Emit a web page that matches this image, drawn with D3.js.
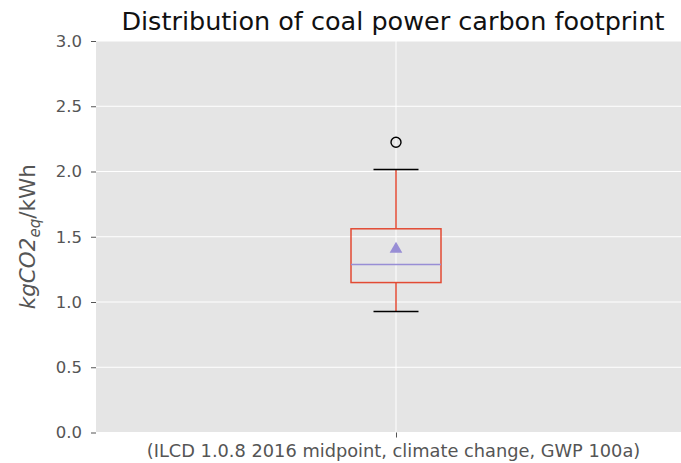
<!DOCTYPE html>
<html>
<head>
<meta charset="utf-8">
<script src="https://cdn.jsdelivr.net/npm/d3@7"></script>
<style>
  body { margin: 0; background: #fff; }
  text { font-family: "DejaVu Sans", sans-serif; }
</style>
</head>
<body>
<svg id="chart" width="681" height="463"></svg>
<script>
// box stats (kg CO2-eq / kWh)
const categories = ["(ILCD 1.0.8 2016 midpoint, climate change, GWP 100a)"];
const whiskerLow = [0.927];
const q1 = [1.149];
const median = [1.287];
const mean = [1.406];
const q3 = [1.561];
const whiskerHigh = [2.016];
const fliers = [[2.224]];
const yTicks = [0.0, 0.5, 1.0, 1.5, 2.0, 2.5, 3.0];

const svg = d3.select("#chart");
const margin = { top: 41, left: 96 };
const innerWidth = 600;
const innerHeight = 391.5;

const g = svg.append("g")
  .attr("transform", `translate(${margin.left}, ${margin.top})`);

// x domain like matplotlib: positions 1..n, limits +/- 0.5
const xScale = d3.scaleLinear()
  .domain([0.5, categories.length + 0.5])
  .range([0, innerWidth]);

const yScale = d3.scaleLinear()
  .domain([0, 3])
  .range([innerHeight, 0]);

g.append("rect")
  .attr("width", innerWidth)
  .attr("height", innerHeight)
  .attr("fill", "#e5e5e5");

// grid
g.selectAll(".hgrid").data(yTicks)
  .enter().append("line")
  .attr("x1", 0).attr("x2", innerWidth)
  .attr("y1", d => yScale(d)).attr("y2", d => yScale(d))
  .attr("stroke", "#fff").attr("stroke-width", 1);

g.selectAll(".vgrid").data(categories)
  .enter().append("line")
  .attr("x1", (d, i) => xScale(i + 1)).attr("x2", (d, i) => xScale(i + 1))
  .attr("y1", 0).attr("y2", innerHeight)
  .attr("stroke", "#fff").attr("stroke-width", 1);

// axes
const yAxis = d3.axisLeft(yScale)
  .tickValues(yTicks)
  .tickFormat(d3.format(".1f"))
  .tickSize(5)
  .tickPadding(9);

const yAxisG = g.append("g").call(yAxis);
yAxisG.select(".domain").remove();
yAxisG.selectAll(".tick line").attr("stroke", "#555");
yAxisG.selectAll(".tick text")
  .attr("fill", "#555")
  .style("font-size", "16.5px")
  .style("font-family", "DejaVu Sans");

const xAxis = d3.axisBottom(xScale)
  .tickValues(categories.map((d, i) => i + 1))
  .tickFormat((d, i) => categories[i])
  .tickSize(5)
  .tickPadding(7);

const xAxisG = g.append("g")
  .attr("transform", `translate(0, ${innerHeight})`)
  .call(xAxis);
xAxisG.select(".domain").remove();
xAxisG.selectAll(".tick line").attr("stroke", "#555");
xAxisG.selectAll(".tick text")
  .attr("fill", "#555")
  .attr("dx", -3)
  .style("font-size", "17.8px")
  .style("font-family", "DejaVu Sans");

// boxes
const boxW = 0.15;
const capW = boxW / 2;

categories.forEach((c, i) => {
  const pos = i + 1;
  const cx = xScale(pos);

  // whiskers
  g.append("line")
    .attr("x1", cx).attr("x2", cx)
    .attr("y1", yScale(q3[i])).attr("y2", yScale(whiskerHigh[i]))
    .attr("stroke", "#e24a33").attr("stroke-width", 1.5);
  g.append("line")
    .attr("x1", cx).attr("x2", cx)
    .attr("y1", yScale(q1[i])).attr("y2", yScale(whiskerLow[i]))
    .attr("stroke", "#e24a33").attr("stroke-width", 1.5);

  // caps
  [whiskerLow[i], whiskerHigh[i]].forEach(v => {
    g.append("line")
      .attr("x1", xScale(pos - capW / 2)).attr("x2", xScale(pos + capW / 2))
      .attr("y1", yScale(v)).attr("y2", yScale(v))
      .attr("stroke", "#000").attr("stroke-width", 1.5);
  });

  // box
  g.append("rect")
    .attr("x", xScale(pos - boxW / 2))
    .attr("y", yScale(q3[i]))
    .attr("width", xScale(pos + boxW / 2) - xScale(pos - boxW / 2))
    .attr("height", yScale(q1[i]) - yScale(q3[i]))
    .attr("fill", "none")
    .attr("stroke", "#e24a33").attr("stroke-width", 1.5);

  // median
  g.append("line")
    .attr("x1", xScale(pos - boxW / 2)).attr("x2", xScale(pos + boxW / 2))
    .attr("y1", yScale(median[i])).attr("y2", yScale(median[i]))
    .attr("stroke", "#988ed5").attr("stroke-width", 1.5);

  // mean marker
  g.append("path")
    .attr("d", d3.symbol(d3.symbolTriangle, 70)())
    .attr("transform", `translate(${cx}, ${yScale(mean[i])})`)
    .attr("fill", "#988ed5");

  // fliers
  g.selectAll(".flier" + i).data(fliers[i])
    .enter().append("circle")
    .attr("cx", cx).attr("cy", d => yScale(d))
    .attr("r", 5)
    .attr("fill", "none")
    .attr("stroke", "#000").attr("stroke-width", 1.4);
});

// title
svg.append("text")
  .attr("x", 393)
  .attr("y", 30)
  .attr("text-anchor", "middle")
  .attr("fill", "#111")
  .style("font-size", "25.5px")
  .text("Distribution of coal power carbon footprint");

// y label with subscript
const yLabel = svg.append("text")
  .attr("transform", `translate(35, ${margin.top + innerHeight / 2}) rotate(-90)`)
  .attr("text-anchor", "middle")
  .attr("fill", "#555")
  .style("font-size", "21.5px");
yLabel.append("tspan").style("font-style", "italic").text("kgCO2");
yLabel.append("tspan").style("font-style", "italic").style("font-size", "15px")
  .attr("dy", 5).text("eq");
yLabel.append("tspan").attr("dy", -5).text("/kWh");
</script>
</body>
</html>
